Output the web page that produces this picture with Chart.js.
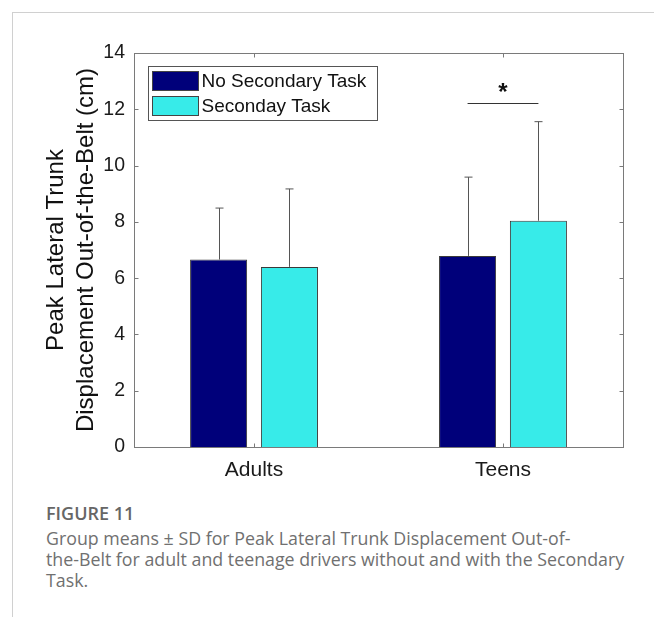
<!DOCTYPE html>
<html>
<head>
<meta charset="utf-8">
<script src="https://cdn.jsdelivr.net/npm/chart.js@4.4.1/dist/chart.umd.min.js"></script>
<style>
    html, body { margin: 0; padding: 0; background: #fff; }
    body { width: 654px; height: 617px; position: relative; overflow: hidden; }
    #frame { position: absolute; left: 12px; top: 12px; right: 0; bottom: 0;
             border-left: 1px solid #d0d0d0; border-top: 1px solid #d0d0d0; }
    #plot { position: absolute; left: 0; top: 0; }
    #caption { position: absolute; left: 46px; top: 503px; width: 600px;
               font-family: 'Open Sans', Lato, sans-serif; color: #707070;
               font-size: 17.8px; line-height: 21px; white-space: nowrap; }
    #caption b { font-weight: 600; color: #666; display: block; margin-bottom: 4px; font-size: 18px; }
</style>
</head>
<body>
<div id="frame"></div>
<canvas id="plot" width="654" height="500"></canvas>
<div id="caption">
    <b>FIGURE 11</b>
    Group means ± SD for Peak Lateral Trunk Displacement Out-of-<br>
    the-Belt for adult and teenage drivers without and with the Secondary<br>
    Task.
</div>
<script>
// values
const groups = ['Adults', 'Teens']
const seriesNames = ['No Secondary Task', 'Seconday Task']
const noTaskMeans = [6.66, 6.79]
const noTaskSD = [1.83, 2.80]
const taskMeans = [6.40, 8.04]
const taskSD = [2.77, 3.52]
const yTicks = [0, 2, 4, 6, 8, 10, 12, 14]
// significance bar over Teens
const sigGroup = 2
const sigLevel = 12.22
const sigLabel = '*'

const colors = ['#00007a', '#37ebe9']
const sds = [noTaskSD, taskSD]

const toPoints = arr => arr.map((v, i) => ({ x: i + 1, y: v }))

// MATLAB-ish box, inward ticks, error bars, legend, significance star
const extras = {
    id: 'extras',
    afterDatasetsDraw(chart) {
        const { ctx, chartArea: a, scales } = chart
        const xs = scales.x, ys = scales.y
        ctx.save()

        // error bars (upper only)
        ctx.strokeStyle = '#555'
        ctx.lineWidth = 1
        chart.data.datasets.forEach((ds, di) => {
            chart.getDatasetMeta(di).data.forEach((bar, j) => {
                const x = Math.round(bar.x) + 0.5
                const top = ys.getPixelForValue(ds.data[j].y + sds[di][j])
                ctx.beginPath()
                ctx.moveTo(x, bar.y)
                ctx.lineTo(x, top)
                ctx.moveTo(x - 4, top)
                ctx.lineTo(x + 4, top)
                ctx.stroke()
            })
        })

        // significance line + star
        const b0 = chart.getDatasetMeta(0).data[sigGroup - 1]
        const b1 = chart.getDatasetMeta(1).data[sigGroup - 1]
        const sy = Math.round(ys.getPixelForValue(sigLevel)) + 0.5
        ctx.strokeStyle = '#333'
        ctx.beginPath()
        ctx.moveTo(b0.x, sy)
        ctx.lineTo(b1.x, sy)
        ctx.stroke()
        ctx.fillStyle = '#111'
        ctx.font = 'bold 24px "Liberation Sans", Arial, sans-serif'
        ctx.textAlign = 'center'
        ctx.textBaseline = 'middle'
        ctx.fillText(sigLabel, xs.getPixelForValue(sigGroup), ys.getPixelForValue(12.55))

        // axes box
        ctx.strokeStyle = '#7a7a7a'
        const L = Math.round(a.left) + 0.5, R = Math.round(a.right) + 0.5
        const T = Math.round(a.top) + 0.5, B = Math.round(a.bottom) + 0.5
        ctx.strokeRect(L, T, R - L, B - T)

        // inward ticks
        ctx.beginPath()
        yTicks.forEach(v => {
            const y = Math.round(ys.getPixelForValue(v)) + 0.5
            ctx.moveTo(L, y); ctx.lineTo(L + 4, y)
            ctx.moveTo(R, y); ctx.lineTo(R - 4, y)
        })
        groups.forEach((g, i) => {
            const x = Math.round(xs.getPixelForValue(i + 1)) + 0.5
            ctx.moveTo(x, B); ctx.lineTo(x, B - 4)
            ctx.moveTo(x, T); ctx.lineTo(x, T + 4)
        })
        ctx.stroke()

        // legend
        const lx = L + 14, ly = T + 13
        ctx.fillStyle = '#fff'
        ctx.fillRect(lx, ly, 229, 54)
        ctx.strokeStyle = '#555'
        ctx.strokeRect(lx, ly, 229, 54)
        ctx.font = '19px "Liberation Sans", Arial, sans-serif'
        ctx.textAlign = 'left'
        chart.data.datasets.forEach((ds, di) => {
            const ry = ly + 5 + di * 25
            ctx.fillStyle = ds.backgroundColor
            ctx.fillRect(lx + 4, ry, 46, 19)
            ctx.strokeStyle = '#444'
            ctx.strokeRect(lx + 4, ry, 46, 19)
            ctx.fillStyle = '#111'
            ctx.fillText(ds.label, lx + 53, ry + 10)
        })
        ctx.restore()
    },
}

const chart = new Chart(document.getElementById('plot'), {
    type: 'bar',
    data: {
        datasets: [
            { label: seriesNames[0], data: toPoints(noTaskMeans), backgroundColor: colors[0] },
            { label: seriesNames[1], data: toPoints(taskMeans), backgroundColor: colors[1] },
        ],
    },
    options: {
        responsive: false,
        animation: false,
        devicePixelRatio: 1,
        layout: { padding: { left: 0, top: 53, right: 31, bottom: 0 } },
        datasets: {
            bar: {
                categoryPercentage: 0.569,
                barPercentage: 0.805,
                borderWidth: 1,
                borderColor: '#3a3a3a',
            },
        },
        plugins: {
            legend: { display: false },
            tooltip: { enabled: false },
        },
        scales: {
            x: {
                type: 'linear',
                offset: false,
                min: 0.518,
                max: 2.482,
                grid: { display: false, drawTicks: false },
                border: { display: false },
                afterBuildTicks: s => { s.ticks = groups.map((g, i) => ({ value: i + 1 })) },
                afterFit: s => { s.height = 53 },
                ticks: {
                    padding: 11,
                    color: '#1a1a1a',
                    font: { family: '"Liberation Sans", Arial, sans-serif', size: 21 },
                    callback: v => groups[v - 1],
                },
            },
            y: {
                min: 0,
                max: 14,
                grid: { display: false, drawTicks: false },
                border: { display: false },
                afterBuildTicks: s => { s.ticks = yTicks.map(v => ({ value: v })) },
                afterFit: s => { s.width = 134 },
                ticks: {
                    padding: 9,
                    color: '#1a1a1a',
                    font: { family: '"Liberation Sans", Arial, sans-serif', size: 19.5 },
                },
                title: {
                    display: true,
                    text: ['Peak Lateral Trunk', 'Displacement Out-of-the-Belt (cm)'],
                    color: '#111',
                    padding: { top: 42, bottom: 0 },
                    font: { family: '"Liberation Sans", Arial, sans-serif', size: 24, lineHeight: 1.22 },
                },
            },
        },
    },
    plugins: [extras],
})
</script>
</body>
</html>
